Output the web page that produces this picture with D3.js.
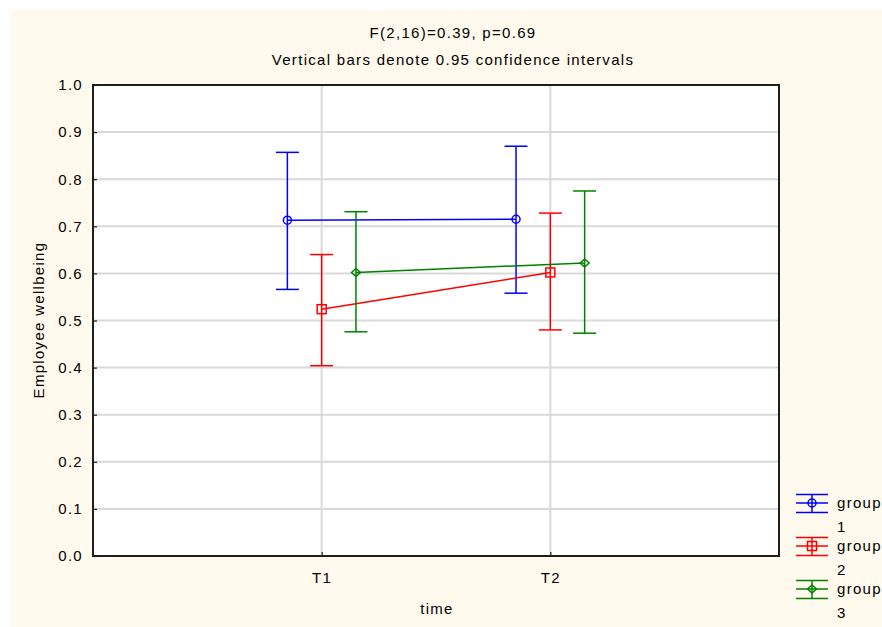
<!DOCTYPE html>
<html>
<head>
<meta charset="utf-8">
<script src="https://cdn.jsdelivr.net/npm/d3@7"></script>
<style>
  html, body { margin: 0; padding: 0; background: #ffffff; }
  svg text { font-family: "Liberation Sans", Arial, sans-serif; fill: #000000; letter-spacing: 1.3px; }
</style>
</head>
<body>
<div id="chart"></div>
<script>
// data
var timePoints = ['T1', 'T2'];
var groupNames = ['group 1', 'group 2', 'group 3'];

var meanG1 = [0.713, 0.715];
var lowG1 = [0.566, 0.558];
var highG1 = [0.857, 0.870];

var meanG2 = [0.524, 0.602];
var lowG2 = [0.404, 0.480];
var highG2 = [0.640, 0.728];

var meanG3 = [0.602, 0.622];
var lowG3 = [0.476, 0.473];
var highG3 = [0.731, 0.775];

var yTicks = [0.0, 0.1, 0.2, 0.3, 0.4, 0.5, 0.6, 0.7, 0.8, 0.9, 1.0];
var titleLines = ['F(2,16)=0.39, p=0.69', 'Vertical bars denote 0.95 confidence intervals'];

(function () {
  var W = 882, H = 627;
  var left = 93, right = 779, top = 85, bottom = 556;
  var colors = ['#0000ff', '#ff0000', '#008000'];
  var shapes = ['circle', 'square', 'diamond'];
  var fontSize = 15;

  var series = [
    { name: groupNames[0], mean: meanG1, low: lowG1, high: highG1 },
    { name: groupNames[1], mean: meanG2, low: lowG2, high: highG2 },
    { name: groupNames[2], mean: meanG3, low: lowG3, high: highG3 }
  ];

  var svg = d3.select('#chart').append('svg')
    .attr('width', W).attr('height', H);

  // cream page
  svg.append('rect')
    .attr('x', 11).attr('y', 10)
    .attr('width', W - 11).attr('height', H - 10)
    .attr('fill', '#fff9ee');

  svg.append('rect')
    .attr('x', left).attr('y', top)
    .attr('width', right - left).attr('height', bottom - top)
    .attr('fill', '#ffffff');

  var x = d3.scaleLinear().domain([0, timePoints.length + 1]).range([left, right]);
  var y = d3.scaleLinear().domain([0, 1]).range([bottom, top]);
  // small sideways dodge between groups, in time units
  var dodge = d3.scaleLinear().domain([0, series.length - 1]).range([-0.15, 0.15]);

  // grid
  var grid = svg.append('g').attr('class', 'grid');
  grid.selectAll('line.h')
    .data(yTicks.filter(function (d) { return d > 0 && d < 1; }))
    .enter().append('line')
    .attr('x1', left).attr('x2', right)
    .attr('y1', function (d) { return y(d); })
    .attr('y2', function (d) { return y(d); })
    .attr('stroke', '#d9d9d9').attr('stroke-width', 2);
  grid.selectAll('line.v')
    .data(timePoints)
    .enter().append('line')
    .attr('x1', function (d, i) { return x(i + 1); })
    .attr('x2', function (d, i) { return x(i + 1); })
    .attr('y1', top).attr('y2', bottom)
    .attr('stroke', '#d9d9d9').attr('stroke-width', 2);

  // axes
  var yAxis = d3.axisLeft(y)
    .tickValues(yTicks)
    .tickFormat(d3.format('.1f'))
    .tickSize(-4)
    .tickPadding(10);
  var gy = svg.append('g').attr('transform', 'translate(' + left + ',0)').call(yAxis);

  var xAxis = d3.axisBottom(x)
    .tickValues(timePoints.map(function (d, i) { return i + 1; }))
    .tickFormat(function (d) { return timePoints[d - 1]; })
    .tickSize(-4)
    .tickPadding(16);
  var gx = svg.append('g').attr('transform', 'translate(0,' + bottom + ')').call(xAxis);

  [gy, gx].forEach(function (g) {
    g.select('.domain').remove();
    g.selectAll('.tick line').attr('stroke', '#1e1e1e').attr('stroke-width', 1.2);
    g.selectAll('.tick text')
      .attr('font-size', fontSize)
      .style('font-family', '"Liberation Sans", Arial, sans-serif')
      .attr('fill', '#000000');
  });

  // frame
  svg.append('rect')
    .attr('x', left).attr('y', top)
    .attr('width', right - left).attr('height', bottom - top)
    .attr('fill', 'none')
    .attr('stroke', '#1e1e1e').attr('stroke-width', 2);

  function marker(g, shape, color, cx, cy) {
    if (shape === 'circle') {
      g.append('circle').attr('cx', cx).attr('cy', cy).attr('r', 4)
        .attr('fill', 'none').attr('stroke', color).attr('stroke-width', 1.5);
    } else if (shape === 'square') {
      g.append('rect').attr('x', cx - 4.5).attr('y', cy - 4.5)
        .attr('width', 9).attr('height', 9)
        .attr('fill', 'none').attr('stroke', color).attr('stroke-width', 1.5);
    } else {
      g.append('path')
        .attr('d', 'M' + (cx - 4.5) + ',' + cy + 'L' + cx + ',' + (cy - 4) + 'L' + (cx + 4.5) + ',' + cy + 'L' + cx + ',' + (cy + 4) + 'Z')
        .attr('fill', 'none').attr('stroke', color).attr('stroke-width', 1.5);
    }
  }

  var line = d3.line()
    .x(function (d) { return x(d.t); })
    .y(function (d) { return y(d.v); });

  var capHalf = 11.5;

  series.forEach(function (s, gi) {
    var g = svg.append('g').attr('class', 'series');
    var pts = s.mean.map(function (v, i) {
      return { t: i + 1 + dodge(gi), v: v, lo: s.low[i], hi: s.high[i] };
    });

    g.append('path').datum(pts)
      .attr('d', line)
      .attr('fill', 'none')
      .attr('stroke', colors[gi]).attr('stroke-width', 1.5);

    pts.forEach(function (p) {
      var px = x(p.t);
      g.append('line')
        .attr('x1', px).attr('x2', px)
        .attr('y1', y(p.lo)).attr('y2', y(p.hi))
        .attr('stroke', colors[gi]).attr('stroke-width', 1.5);
      [p.lo, p.hi].forEach(function (c) {
        g.append('line')
          .attr('x1', px - capHalf).attr('x2', px + capHalf)
          .attr('y1', y(c)).attr('y2', y(c))
          .attr('stroke', colors[gi]).attr('stroke-width', 1.5);
      });
      marker(g, shapes[gi], colors[gi], px, y(p.v));
    });
  });

  // titles
  svg.selectAll('text.title')
    .data(titleLines)
    .enter().append('text')
    .attr('class', 'title')
    .attr('x', 453)
    .attr('y', function (d, i) { return 38 + i * 27; })
    .attr('text-anchor', 'middle')
    .attr('font-size', fontSize)
    .text(function (d) { return d; });

  svg.append('text')
    .attr('transform', 'translate(44,320) rotate(-90)')
    .attr('text-anchor', 'middle')
    .attr('font-size', fontSize)
    .text('Employee wellbeing');

  svg.append('text')
    .attr('x', 437).attr('y', 614)
    .attr('text-anchor', 'middle')
    .attr('font-size', fontSize)
    .text('time');

  // legend
  var legend = svg.append('g').attr('class', 'legend');
  series.forEach(function (s, gi) {
    var cy = 503 + gi * 43;
    var g = legend.append('g');
    var x0 = 796, x1 = 828, cx = 812;
    [-8.5, 0, 9.5].forEach(function (dy) {
      g.append('line')
        .attr('x1', x0).attr('x2', x1)
        .attr('y1', cy + dy).attr('y2', cy + dy)
        .attr('stroke', colors[gi]).attr('stroke-width', 1.5);
    });
    g.append('line')
      .attr('x1', cx).attr('x2', cx)
      .attr('y1', cy - 8.5).attr('y2', cy + 9.5)
      .attr('stroke', colors[gi]).attr('stroke-width', 1.5);
    marker(g, shapes[gi], colors[gi], cx, cy);

    var words = s.name.split(' ');
    var t = g.append('text')
      .attr('x', 837).attr('y', cy + 5)
      .attr('font-size', fontSize);
    t.append('tspan').attr('x', 837).text(words[0]);
    t.append('tspan').attr('x', 837).attr('dy', 24).text(words[1]);
  });
})();
</script>
</body>
</html>
